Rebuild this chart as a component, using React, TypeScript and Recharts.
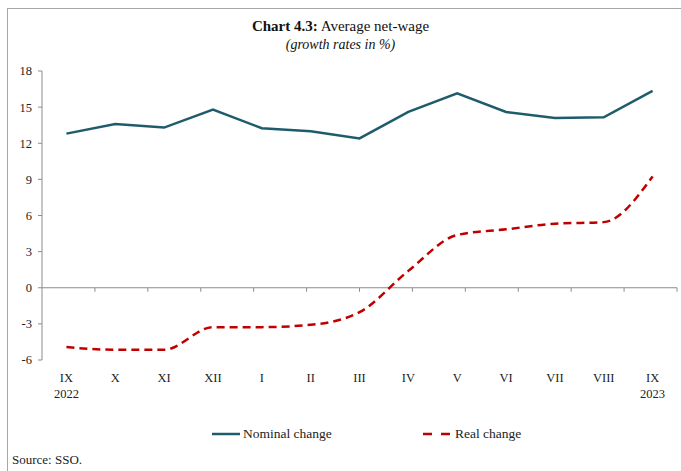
import React from 'react';
import { LineChart, Line, XAxis, YAxis, ReferenceLine } from 'recharts';

const months = ['IX', 'X', 'XI', 'XII', 'I', 'II', 'III', 'IV', 'V', 'VI', 'VII', 'VIII', 'IX'];
const years = ['2022', '', '', '', '', '', '', '', '', '', '', '', '2023'];
const nominal = [12.8, 13.6, 13.3, 14.8, 13.25, 13.0, 12.4, 14.6, 16.15, 14.6, 14.1, 14.15, 16.35];
const real = [-4.93, -5.15, -5.15, -3.27, -3.27, -3.08, -2.03, 1.4, 4.38, 4.85, 5.32, 5.45, 9.25];
const yTicks = [-6, -3, 0, 3, 6, 9, 12, 15, 18];
const boundaries = [1, 2, 3, 4, 5, 6, 7, 8, 9, 10, 11, 12, 13];

const data = months.map((m, i) => ({ key: i, month: m, year: years[i], nominal: nominal[i], real: real[i] }));

const FONT = '"Liberation Serif", "Times New Roman", serif';
const NOMINAL_COLOR = '#1F5C6B';
const REAL_COLOR = '#C00000';
const AXIS_COLOR = '#8C8C8C';

const XTick = (props: any) => {
  const { x, y, payload } = props;
  const d = data[payload.value];
  return (
    <g>
      <text x={x} y={y + 14} textAnchor="middle" fontSize={12.5} fontFamily={FONT} fill="#222">{d.month}</text>
      {d.year ? (
        <text x={x} y={y + 30} textAnchor="middle" fontSize={12.5} fontFamily={FONT} fill="#222">{d.year}</text>
      ) : null}
    </g>
  );
};

export default function App() {
  return (
    <div style={{ position: 'absolute', left: 0, top: 0, width: 681, height: 471, background: '#fff', overflow: 'hidden', fontFamily: FONT }}>
      <div style={{ position: 'absolute', left: 7, top: 8, width: 680, height: 470, borderLeft: '1.5px solid #A6A6A6', borderTop: '1.5px solid #A6A6A6' }} />
      <div style={{ position: 'absolute', left: 0, top: 17, width: 681, textAlign: 'center', fontSize: 15, color: '#111', lineHeight: '18px', fontFamily: FONT }}>
        <b>Chart 4.3:</b> Average net-wage
      </div>
      <div style={{ position: 'absolute', left: 0, top: 36, width: 681, textAlign: 'center', fontSize: 14, fontStyle: 'italic', color: '#111', lineHeight: '18px', fontFamily: FONT }}>
        (growth rates in %)
      </div>
      <div style={{ position: 'absolute', left: 0, top: 0 }}>
        <LineChart width={681} height={471} data={data} margin={{ top: 71, right: 4, left: 0, bottom: 71 }}>
          <XAxis dataKey="key" type="category" scale="band" axisLine={false} tickLine={false} tick={<XTick />} height={40} interval={0} />
          <XAxis xAxisId="n" type="number" domain={[0, 13]} hide />
          <YAxis
            domain={[-6, 18]}
            ticks={yTicks}
            width={42}
            axisLine={{ stroke: AXIS_COLOR }}
            tickLine={{ stroke: AXIS_COLOR }}
            tickSize={4}
            tickMargin={6}
            tick={{ fontSize: 12.5, fontFamily: FONT, fill: '#222' }}
            interval={0}
          />
          <ReferenceLine y={0} stroke={AXIS_COLOR} strokeWidth={1} />
          {boundaries.map((b) => (
            <ReferenceLine
              key={b}
              xAxisId="n"
              segment={[{ x: b, y: 0 }, { x: b, y: -0.33 }]}
              stroke={AXIS_COLOR}
              strokeWidth={1}
            />
          ))}
          <Line type="linear" dataKey="nominal" stroke={NOMINAL_COLOR} strokeWidth={2.5} dot={false} isAnimationActive={false} />
          <Line type="monotone" dataKey="real" stroke={REAL_COLOR} strokeWidth={2.5} strokeDasharray="8 5" dot={false} isAnimationActive={false} />
        </LineChart>
      </div>
      <div style={{ position: 'absolute', left: 0, top: 425, width: 681, height: 18, fontSize: 13.5, color: '#222', fontFamily: FONT }}>
        <svg style={{ position: 'absolute', left: 212, top: 0 }} width={30} height={18}>
          <line x1={0} y1={9} x2={28} y2={9} stroke={NOMINAL_COLOR} strokeWidth={2.5} />
        </svg>
        <span style={{ position: 'absolute', left: 243, top: 0, lineHeight: '18px', fontFamily: FONT }}>Nominal change</span>
        <svg style={{ position: 'absolute', left: 423, top: 0 }} width={30} height={18}>
          <line x1={0} y1={9} x2={27} y2={9} stroke={REAL_COLOR} strokeWidth={2.5} strokeDasharray="9 9" />
        </svg>
        <span style={{ position: 'absolute', left: 455, top: 0, lineHeight: '18px', fontFamily: FONT }}>Real change</span>
      </div>
      <div style={{ position: 'absolute', left: 12, top: 451, fontSize: 13, color: '#222', lineHeight: '18px', fontFamily: FONT }}>
        Source: SSO.
      </div>
    </div>
  );
}
